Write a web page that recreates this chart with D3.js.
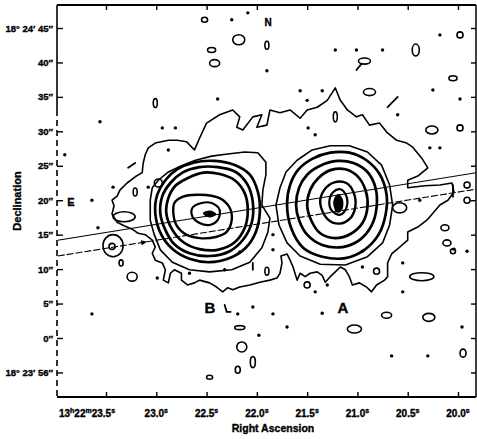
<!DOCTYPE html>
<html>
<head>
<meta charset="utf-8">
<script src="https://cdn.jsdelivr.net/npm/d3@7"></script>
<style>
  body { margin: 0; background: #fff; }
  text { font-family: "Liberation Sans", Arial, sans-serif; font-weight: bold; fill: #000; stroke: #000; stroke-width: 0.35px; }
</style>
</head>
<body>
<script>
// RA in seconds (13h 22m xx.xs), Dec in arcsec from 18° 24' 00"
const raTicks = [23.5, 23.0, 22.5, 22.0, 21.5, 21.0, 20.5, 20.0];
const raTickLabels = ['23.5', '23.0', '22.5', '22.0', '21.5', '21.0', '20.5', '20.0'];
const decTicks = [45, 40, 35, 30, 25, 20, 15, 10, 5, 0, -5];
const decTickLabels = ['18° 24′ 45″', '40″', '35″', '30″', '25″', '20″', '15″', '10″', '5″', '0″', '18° 23′ 56″'];

// lowest contour, encloses both sources
const lowContour = [
  [23.44,20.0],[23.39,20.6],[23.36,21.5],[23.29,22.5],[23.21,23.4],[23.14,24.0],[23.13,25.4],[23.11,26.6],
  [23.08,27.6],[23.01,28.3],[22.88,28.7],[22.79,28.7],[22.70,28.5],[22.62,27.3],[22.57,29.0],[22.50,31.2],
  [22.37,32.4],[22.24,33.1],[22.17,32.1],[22.20,30.6],[22.14,30.2],[22.04,32.1],[21.95,32.4],[22.00,30.6],
  [21.90,30.9],[21.87,33.1],[21.77,32.7],[21.67,33.1],[21.57,31.9],[21.50,33.1],[21.40,33.5],[21.30,34.5],
  [21.22,36.3],[21.17,34.5],[21.10,33.1],[21.01,32.1],[20.95,32.4],[20.88,30.9],[20.78,31.2],[20.71,29.9],
  [20.61,28.7],[20.51,28.3],[20.45,27.7],[20.36,26.1],[20.30,24.7],[20.40,23.5],[20.50,22.9],[20.50,21.8],
  [20.33,22.1],[20.18,22.2],[20.06,22.5],[20.04,21.2],[20.10,20.0],[20.18,19.3],[20.25,18.1],[20.31,17.1],
  [20.40,16.1],[20.50,15.4],[20.50,14.2],[20.58,13.2],[20.66,12.2],[20.70,10.9],[20.70,8.9],[20.73,8.4],
  [20.81,7.7],[20.86,6.7],[20.91,7.4],[20.98,8.0],[21.05,7.7],[21.08,8.9],[21.12,9.9],[21.17,10.3],
  [21.22,9.6],[21.27,8.9],[21.32,8.1],[21.35,9.1],[21.40,9.6],[21.47,9.4],[21.52,8.9],[21.57,9.4],
  [21.60,8.4],[21.64,10.3],[21.67,11.3],[21.70,12.2],[21.76,11.9],[21.75,10.9],[21.77,9.4],[21.80,8.7],
  [21.87,8.4],[21.97,8.1],[22.07,7.7],[22.17,7.4],[22.24,7.0],[22.29,7.3],[22.34,6.7],[22.40,7.4],
  [22.47,8.0],[22.57,8.4],[22.62,8.0],[22.69,7.7],[22.75,8.4],[22.75,9.4],[22.82,9.9],[22.86,9.4],
  [22.88,8.0],[22.93,8.4],[22.91,9.9],[22.94,10.9],[23.01,11.3],[23.04,12.3],[23.01,13.2],[23.04,14.2],
  [23.11,15.0],[23.18,15.2],[23.24,15.8],[23.32,16.3],[23.39,16.8],[23.44,18.0],[23.42,19.2]
];

// source B, from outside in
const ringsB = [
  [[23.06,20.0],[23.04,21.8],[22.98,22.9],[22.88,24.1],[22.75,25.0],[22.61,25.8],[22.45,26.4],[22.29,26.7],
   [22.12,27.0],[21.99,26.9],[21.91,25.5],[21.91,23.7],[21.94,21.5],[21.95,19.3],[21.87,17.4],[21.89,15.4],
   [21.95,13.1],[22.07,11.0],[22.25,9.9],[22.47,9.6],[22.67,9.9],[22.84,11.0],[22.96,12.8],[23.02,15.0],[23.06,17.1]],
  [[23.01,18.1],[22.99,20.8],[22.91,22.9],[22.79,24.5],[22.62,25.5],[22.42,25.7],[22.22,25.1],[22.07,23.7],
   [21.99,21.2],[21.97,18.3],[22.01,15.4],[22.11,13.1],[22.27,11.6],[22.47,11.0],[22.67,11.5],[22.83,12.8],[22.95,15.0]],
  [[22.96,18.1],[22.94,20.6],[22.86,22.5],[22.74,24.0],[22.57,24.8],[22.39,24.8],[22.21,24.1],[22.09,22.2],
   [22.04,19.7],[22.05,16.8],[22.13,14.4],[22.27,12.6],[22.47,11.9],[22.67,12.3],[22.82,13.6],[22.91,15.7]],
  [[22.90,18.1],[22.88,20.3],[22.81,22.1],[22.69,23.2],[22.53,24.0],[22.37,23.8],[22.22,22.9],[22.12,21.0],
   [22.09,18.6],[22.12,16.0],[22.22,13.9],[22.39,12.8],[22.57,12.9],[22.73,13.9],[22.84,15.7]],
  [[22.82,19.6],[22.74,20.5],[22.57,20.8],[22.37,20.3],[22.27,18.9],[22.25,17.1],[22.30,15.4],[22.40,14.7],
   [22.57,14.5],[22.70,15.0],[22.80,16.4],[22.83,18.1]],
  [[22.64,18.9],[22.55,19.6],[22.45,19.6],[22.37,18.6],[22.39,17.1],[22.47,16.4],[22.57,16.7],[22.64,17.6]]
];
const coreB = [[22.53,18.1],[22.47,18.4],[22.41,18.0],[22.47,17.6]];

// source A, from outside in
const ringsA = [
  [[21.81,19.3],[21.77,21.8],[21.71,24.1],[21.60,25.8],[21.45,27.3],[21.27,27.9],[21.08,27.9],[20.90,27.0],
   [20.76,25.1],[20.68,22.2],[20.65,19.3],[20.68,16.4],[20.75,13.8],[20.90,11.8],[21.12,10.6],[21.37,10.7],
   [21.57,11.9],[21.70,13.8],[21.78,16.4]],
  [[21.70,19.3],[21.67,22.2],[21.59,24.4],[21.45,26.0],[21.27,26.9],[21.08,26.9],[20.91,25.8],[20.78,23.8],
   [20.71,20.8],[20.72,17.9],[20.79,15.0],[20.93,12.8],[21.12,11.6],[21.35,11.8],[21.54,13.1],[21.66,16.0]],
  [[21.61,19.3],[21.58,21.8],[21.50,23.7],[21.37,25.0],[21.20,25.7],[21.04,25.4],[20.90,24.1],[20.82,21.8],
   [20.81,18.9],[20.86,16.3],[20.98,14.2],[21.15,13.2],[21.35,13.5],[21.50,15.0],[21.58,17.1]],
  [[21.50,19.3],[21.47,21.5],[21.39,23.2],[21.26,24.4],[21.12,24.5],[21.00,23.5],[20.92,21.5],[20.90,19.0],
   [20.95,16.7],[21.07,15.1],[21.22,14.5],[21.37,15.2],[21.46,17.1]],
  [[21.37,19.6],[21.33,21.5],[21.23,22.6],[21.11,22.5],[21.04,21.2],[21.02,19.2],[21.07,17.4],[21.18,16.6],[21.30,17.3]],
  [[21.28,19.7],[21.24,21.2],[21.17,21.6],[21.11,20.6],[21.11,18.9],[21.17,17.9],[21.25,18.4]]
];
const coreA = [[21.23,20.0],[21.19,20.8],[21.15,20.0],[21.16,18.6],[21.20,18.3],[21.23,19.2]];

// small closed contours: ra, dec, half width (s), half height (arcsec)
const islands = [
  [22.52,46.2,0.03,0.36],[22.18,43.3,0.06,0.73],[21.90,42.5,0.02,0.58],[22.45,41.8,0.04,0.36],
  [22.42,39.9,0.05,0.51],[20.93,40.2,0.06,0.44],[20.42,41.8,0.035,0.87],[19.98,44.0,0.03,0.44],
  [20.05,37.7,0.04,0.36],[20.88,35.7,0.06,0.51],[21.22,32.1,0.02,0.73],[20.26,30.2,0.06,0.58],
  [19.98,30.5,0.03,0.44],[23.01,34.1,0.02,0.65],[23.21,21.2,0.02,0.58],[22.98,22.5,0.04,0.58],
  [23.32,17.6,0.11,0.73],[23.43,13.4,0.10,1.6],[23.44,13.3,0.03,0.44],[23.35,10.9,0.02,0.44],
  [23.24,8.9,0.05,0.65],[21.90,9.7,0.02,0.58],[21.50,7.7,0.03,0.44],[22.17,1.5,0.05,0.29],
  [22.15,-1.3,0.05,0.73],[22.04,-3.5,0.025,0.8],[22.19,-4.6,0.025,0.51],[22.47,-5.7,0.03,0.29],
  [20.81,9.7,0.03,0.44],[20.36,8.9,0.12,0.58],[20.11,13.8,0.04,0.44],[20.05,12.6,0.025,0.36],
  [20.71,3.3,0.05,0.44],[20.29,3.0,0.06,0.58],[21.03,1.3,0.07,0.58],[19.95,-2.2,0.03,0.58],
  [20.13,16.0,0.04,0.44],[19.91,22.2,0.03,0.44],[19.91,20.0,0.03,0.44],[20.58,18.9,0.07,0.73]
];

// single-pixel peaks
const dots = [
  [22.25,46.2],[22.09,47.2],[21.90,38.8],[22.39,34.7],[21.22,41.8],[21.01,41.8],[20.75,41.8],[20.18,44.0],
  [20.25,36.0],[19.98,34.7],[21.57,35.9],[21.35,35.9],[21.50,34.5],[20.60,32.4],[21.49,30.5],[21.42,29.5],
  [20.28,27.6],[20.18,27.6],[23.56,31.4],[22.94,30.5],[22.81,30.5],[22.88,27.3],[23.91,26.6],[23.43,21.9],
  [23.08,21.9],[23.64,20.0],[23.58,16.0],[22.99,8.7],[23.64,3.5],[21.84,15.0],[21.84,12.8],[22.17,12.5],
  [22.32,9.9],[22.67,9.4],[21.42,6.7],[22.19,3.5],[22.04,4.5],[21.84,3.5],[21.35,3.6],[21.70,1.6],
  [21.98,0.4],[20.95,12.6],[21.30,7.7],[20.55,10.9],[20.55,6.7],[19.91,12.6],[19.96,1.6],[20.66,-2.6],
  [20.30,-2.6],[20.38,20.0],[20.04,12.9],[20.95,10.3]
];

// open contour fragments
const strokes = [
  [[23.28,24.7],[23.21,25.4]],
  [[20.70,33.5],[20.60,35.0]],
  [[22.04,10.9],[22.04,9.9]],
  [[20.96,39.8],[21.01,38.9]],
  [[20.05,22.2],[20.05,20.5]],
  [[22.32,4.8],[22.30,3.8],[22.26,3.8]]
];

// the two straight lines across the field
const lineSolid = [[23.98,14.2],[19.82,24.0]];
const lineDashed = [[23.98,11.9],[19.82,21.6]];
const arrowRa = 23.09;

const W = 477, H = 439;
const fLeft = 57, fRight = 476, fTop = 5, fBottom = 397;

const xScale = d3.scaleLinear().domain([23.5, 20.0]).range([106, 458]);
const yScale = d3.scaleLinear().domain([0, 45]).range([338, 28]);

const svg = d3.select('body').append('svg')
  .attr('width', W)
  .attr('height', H);

svg.append('clipPath').attr('id', 'clip')
  .append('rect')
  .attr('x', fLeft).attr('y', fTop)
  .attr('width', fRight - fLeft).attr('height', fBottom - fTop);

const plot = svg.append('g').attr('clip-path', 'url(#clip)');

const jagged = d3.line()
  .x(d => xScale(d[0]))
  .y(d => yScale(d[1]))
  .curve(d3.curveLinearClosed);

const smooth = d3.line()
  .x(d => xScale(d[0]))
  .y(d => yScale(d[1]))
  .curve(d3.curveCatmullRomClosed.alpha(0.5));

const open = d3.line()
  .x(d => xScale(d[0]))
  .y(d => yScale(d[1]));

plot.append('path')
  .attr('d', jagged(lowContour))
  .attr('fill', 'none')
  .attr('stroke', '#000')
  .attr('stroke-width', 1.6)
  .attr('stroke-linejoin', 'round');

const ringWidth = [1.6, 2.7, 2.7, 2.7, 2.4, 2.2];
[ringsB, ringsA].forEach(rings => {
  plot.selectAll(null)
    .data(rings)
    .enter()
    .append('path')
    .attr('d', (d, i) => i === 0 ? jagged(d) : smooth(d))
    .attr('fill', 'none')
    .attr('stroke', '#000')
    .attr('stroke-width', (d, i) => ringWidth[i])
    .attr('stroke-linejoin', 'round');
});

plot.selectAll(null)
  .data([coreB, coreA])
  .enter()
  .append('path')
  .attr('d', d => smooth(d))
  .attr('fill', '#000')
  .attr('stroke', '#000')
  .attr('stroke-width', 1.5);

plot.selectAll(null)
  .data(islands)
  .enter()
  .append('ellipse')
  .attr('cx', d => xScale(d[0]))
  .attr('cy', d => yScale(d[1]))
  .attr('rx', d => Math.abs(xScale(d[0] + d[2]) - xScale(d[0])))
  .attr('ry', d => Math.abs(yScale(d[1] + d[3]) - yScale(d[1])))
  .attr('fill', 'none')
  .attr('stroke', '#000')
  .attr('stroke-width', 1.6);

plot.selectAll(null)
  .data(dots)
  .enter()
  .append('circle')
  .attr('cx', d => xScale(d[0]))
  .attr('cy', d => yScale(d[1]))
  .attr('r', 1.7)
  .attr('fill', '#000');

plot.selectAll(null)
  .data(strokes)
  .enter()
  .append('path')
  .attr('d', d => open(d))
  .attr('fill', 'none')
  .attr('stroke', '#000')
  .attr('stroke-width', 1.8)
  .attr('stroke-linecap', 'round');

plot.append('path')
  .attr('d', open(lineSolid))
  .attr('stroke', '#000')
  .attr('stroke-width', 1.1);

plot.append('path')
  .attr('d', open(lineDashed))
  .attr('stroke', '#000')
  .attr('stroke-width', 1.1)
  .attr('stroke-dasharray', '7,2');

// arrow head on the dashed line
const t = (arrowRa - lineDashed[0][0]) / (lineDashed[1][0] - lineDashed[0][0]);
const arrowDec = lineDashed[0][1] + t * (lineDashed[1][1] - lineDashed[0][1]);
const ax = xScale(arrowRa), ay = yScale(arrowDec);
const ang = Math.atan2(yScale(lineDashed[1][1]) - yScale(lineDashed[0][1]),
                       xScale(lineDashed[1][0]) - xScale(lineDashed[0][0])) * 180 / Math.PI;
svg.append('path')
  .attr('d', 'M0,0 L-6,-2.5 L-6,2.5 Z')
  .attr('transform', `translate(${ax},${ay}) rotate(${ang})`)
  .attr('fill', '#000');

// frame and inward ticks
const axisX = d3.axisBottom(xScale).tickValues(raTicks).tickSize(-5).tickFormat('');
const axisXTop = d3.axisTop(xScale).tickValues(raTicks).tickSize(-5).tickFormat('');
const axisY = d3.axisLeft(yScale).tickValues(decTicks).tickSize(-6).tickFormat('');
const axisYRight = d3.axisRight(yScale).tickValues(decTicks).tickSize(-5).tickFormat('');

[[axisX, `translate(0,${fBottom})`], [axisXTop, `translate(0,${fTop})`],
 [axisY, `translate(${fLeft},0)`], [axisYRight, `translate(${fRight},0)`]].forEach(([axis, tr]) => {
  const g = svg.append('g').attr('transform', tr).call(axis);
  g.select('.domain').remove();
  g.selectAll('line').attr('stroke', '#000').attr('stroke-width', 1.4);
});

svg.append('line')
  .attr('x1', fLeft).attr('x2', fRight).attr('y1', fTop).attr('y2', fTop)
  .attr('stroke', '#000').attr('stroke-width', 2);
svg.append('line')
  .attr('x1', fLeft).attr('x2', fRight).attr('y1', fBottom).attr('y2', fBottom)
  .attr('stroke', '#000').attr('stroke-width', 2);
svg.append('line')
  .attr('x1', fRight).attr('x2', fRight).attr('y1', fTop).attr('y2', fBottom)
  .attr('stroke', '#000').attr('stroke-width', 1.5);
svg.append('line')
  .attr('x1', fLeft).attr('x2', fLeft).attr('y1', fTop).attr('y2', 110)
  .attr('stroke', '#000').attr('stroke-width', 1.6);
svg.append('line')
  .attr('x1', fLeft).attr('x2', fLeft).attr('y1', 110).attr('y2', fBottom)
  .attr('stroke', '#000').attr('stroke-width', 1.6)
  .attr('stroke-dasharray', '6,4');

// tick labels
const xLab = svg.append('g')
  .selectAll('text')
  .data(raTicks)
  .enter()
  .append('text')
  .attr('x', d => xScale(d))
  .attr('y', 417)
  .attr('text-anchor', 'middle')
  .attr('font-size', 10);

xLab.each(function(d, i) {
  const el = d3.select(this);
  if (i === 0) {
    el.append('tspan').text('13');
    el.append('tspan').attr('font-size', 7).attr('dy', -4).text('h');
    el.append('tspan').attr('dy', 4).text('22');
    el.append('tspan').attr('font-size', 7).attr('dy', -4).text('m');
    el.append('tspan').attr('dy', 4).text(raTickLabels[i]);
  } else {
    el.append('tspan').text(raTickLabels[i]);
  }
  el.append('tspan').attr('font-size', 7).attr('dy', -4).text('s');
});
xLab.filter((d, i) => i === 0).attr('x', d => xScale(d) - 19);

svg.append('g')
  .selectAll('text')
  .data(decTicks)
  .enter()
  .append('text')
  .attr('x', 53)
  .attr('y', d => yScale(d) + 3.5)
  .attr('text-anchor', 'end')
  .attr('font-size', 9.5)
  .text((d, i) => decTickLabels[i]);

svg.append('text')
  .attr('x', 273)
  .attr('y', 432)
  .attr('text-anchor', 'middle')
  .attr('font-size', 10.5)
  .text('Right Ascension');

svg.append('text')
  .attr('transform', 'translate(21,201) rotate(-90)')
  .attr('text-anchor', 'middle')
  .attr('font-size', 11)
  .text('Declination');

// annotations
svg.append('text').attr('x', 71).attr('y', 206).attr('text-anchor', 'middle')
  .attr('font-size', 11).text('E');
svg.append('text').attr('x', 268).attr('y', 26).attr('text-anchor', 'middle')
  .attr('font-size', 10).text('N');
svg.append('text').attr('x', 210).attr('y', 313).attr('text-anchor', 'middle')
  .attr('font-size', 15).text('B');
svg.append('text').attr('x', 343).attr('y', 313).attr('text-anchor', 'middle')
  .attr('font-size', 15).text('A');
</script>
</body>
</html>
